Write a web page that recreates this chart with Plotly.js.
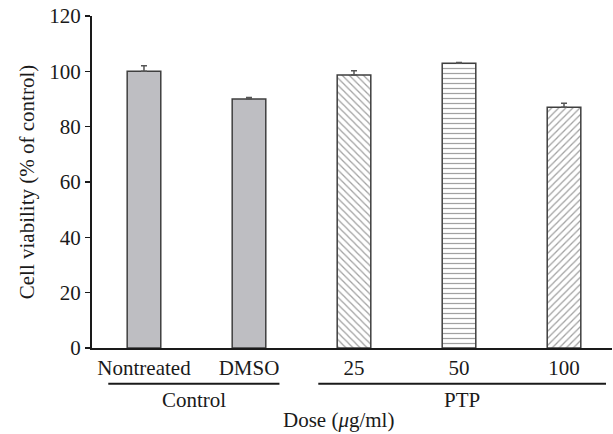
<!DOCTYPE html>
<html>
<head>
<meta charset="utf-8">
<script src="https://cdn.plot.ly/plotly-3.0.1.min.js"></script>
<style>html,body{margin:0;padding:0;background:#fff;}#chart{width:613px;height:434px;}</style>
</head>
<body>
<div id="chart"></div>
<script>
var categories = ["Nontreated", "DMSO", "25", "50", "100"];
var viability = [100, 90, 98.7, 102.9, 87.0];
var errorsUp = [2.0, 0.5, 1.5, 0.3, 1.5];
var groups = ["Control", "PTP"];
var groupStart = [0, 2];
var groupEnd = [1, 4];

var FONT = "Liberation Serif, Times New Roman, serif";
var FS = 21;
var fills = ["#bebec2", "#bebec2", "#ffffff", "#ffffff", "#ffffff"];
var shapesPat = ["", "", "\\", "-", "/"];
var xs = categories.map(function(c, i){ return i; });

var trace = {
  type: "bar",
  x: xs,
  y: viability,
  width: 0.32,
  marker: {
    color: fills,
    line: {color: "#3f3f3f", width: 1.5},
    pattern: {shape: shapesPat, fgcolor: "#b0b0b0", bgcolor: "#ffffff", size: 5, solidity: 0.25, fillmode: "overlay"}
  },
  error_y: {type: "data", symmetric: false, array: errorsUp, arrayminus: errorsUp.map(function(){return 0;}), color: "#555555", thickness: 1.5, width: 3},
  hoverinfo: "none"
};

var shapes = [];
var annotations = [];
groups.forEach(function(g, i){
  var a = groupStart[i] - 0.34, b = groupEnd[i] + 0.29;
  if (i === 1) { b = groupEnd[i] + 0.4; }
  shapes.push({type: "line", xref: "x", yref: "paper", x0: a, x1: b, y0: -0.108, y1: -0.108, line: {color: "#1a1a1a", width: 2}});
  annotations.push({xref: "x", yref: "paper", x: (a + b) / 2, y: -0.113, yanchor: "top", showarrow: false, text: g, font: {family: FONT, size: FS, color: "#1a1a1a"}});
});
annotations.push({xref: "x", yref: "paper", x: 1.85, y: -0.175, yanchor: "top", showarrow: false, text: "Dose (<i>μ</i>g/ml)", font: {family: FONT, size: FS, color: "#1a1a1a"}});

var layout = {
  width: 613, height: 434,
  margin: {l: 92, r: 1, t: 16, b: 86},
  paper_bgcolor: "#ffffff", plot_bgcolor: "#ffffff",
  showlegend: false,
  font: {family: FONT, size: FS, color: "#1a1a1a"},
  xaxis: {
    range: [-0.495, 4.457],
    tickmode: "array", tickvals: xs, ticktext: categories,
    showline: true, linecolor: "#1a1a1a", linewidth: 2,
    ticks: "", showgrid: false, zeroline: false,
    tickfont: {family: FONT, size: FS, color: "#1a1a1a"}
  },
  yaxis: {
    range: [0, 120], dtick: 20,
    showline: true, linecolor: "#1a1a1a", linewidth: 2,
    ticks: "outside", ticklen: 5, tickwidth: 1.5, tickcolor: "#1a1a1a",
    showgrid: false, zeroline: false,
    tickfont: {family: FONT, size: FS, color: "#1a1a1a"},
    title: {text: "Cell viability (% of control)", font: {family: FONT, size: FS, color: "#1a1a1a"}, standoff: 9}
  },
  shapes: shapes,
  annotations: annotations
};

Plotly.newPlot("chart", [trace], layout, {displayModeBar: false, staticPlot: true});
</script>
</body>
</html>
